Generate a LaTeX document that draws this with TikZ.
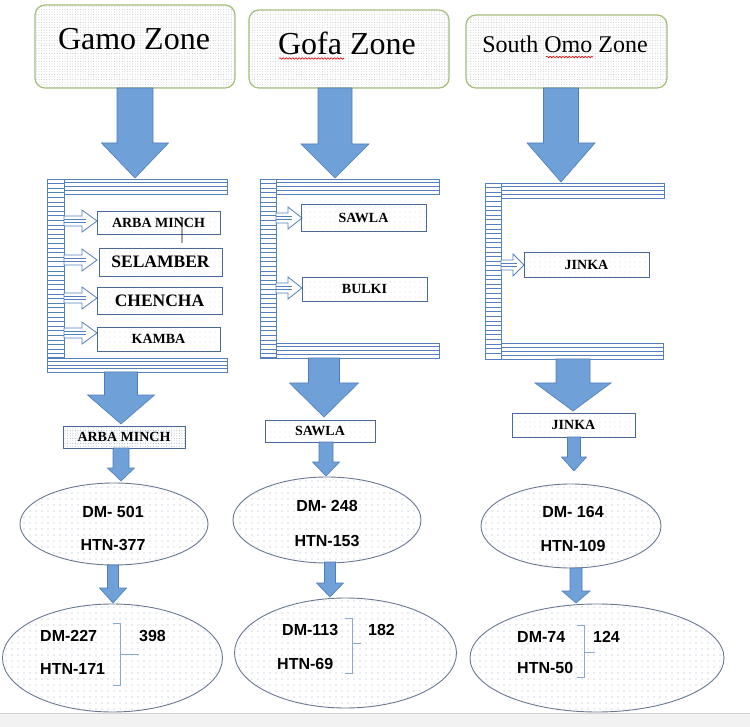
\documentclass[tikz,border=0pt]{standalone}
\usepackage{fontspec}
\setmainfont{Liberation Serif}
\newfontfamily\arialf{Liberation Sans}
\usetikzlibrary{patterns.meta,shapes.geometric,decorations.pathmorphing}
\definecolor{arrfill}{RGB}{112,160,216}
\definecolor{arrdraw}{RGB}{79,124,186}
\definecolor{barcol}{RGB}{84,128,190}
\definecolor{zoneborder}{RGB}{165,190,125}
\definecolor{zonedots}{RGB}{170,176,186}
\definecolor{boxborder}{RGB}{75,105,150}
\definecolor{boxdots}{RGB}{150,165,185}
\definecolor{ellborder}{RGB}{105,120,145}
\definecolor{elldots}{RGB}{160,180,200}
\definecolor{bracecol}{RGB}{140,170,205}
\tikzset{
  zone/.style={draw=zoneborder, line width=1.2pt, rounded corners=10pt,
    pattern={Dots[distance=2.6pt,radius=0.4pt]}, pattern color=zonedots, inner sep=0pt},
  zonetext/.style={font=\fontsize{32}{36}\selectfont, inner sep=0pt, anchor=base},
  zonetextsmall/.style={font=\fontsize{24}{28}\selectfont, inner sep=0pt, anchor=base},
  barstyle/.style={draw=barcol, line width=0.9pt, fill=white},
  barline/.style={draw=barcol, line width=0.6pt},
  sidearr/.style={draw=barcol, line width=0.8pt, fill=white},
  bigarr/.style={draw=arrdraw, line width=0.6pt, fill=arrfill},
  dbox/.style={draw=boxborder, line width=0.8pt, inner sep=0pt,
    pattern={Dots[distance=5pt,radius=0.45pt]}, pattern color=boxdots,
    font=\bfseries\fontsize{14}{16}\selectfont},
  dboxbig/.style={dbox, font=\bfseries\fontsize{17.5}{20}\selectfont},
  tbox/.style={dbox, pattern={Dots[distance=2.6pt,radius=0.45pt]}},
  ell/.style={ellipse, draw=ellborder, line width=0.9pt, inner sep=0pt,
    pattern={Dots[distance=6pt,radius=0.55pt]}, pattern color=elldots},
  etext/.style={font=\arialf\bfseries\fontsize{16}{18}\selectfont, inner sep=0pt, anchor=base},
  etextw/.style={etext, anchor=base west},
  bracestyle/.style={draw=bracecol, line width=0.8pt},
  squig/.style={draw=red!85!black, line width=0.6pt, decorate,
    decoration={snake, amplitude=0.8pt, segment length=3.2pt}}
}
% block arrow: xc, ytop, shaft half, y head top, head half, y tip
\newcommand\blockarrow[6]{%
  \draw[bigarr] ({#1-#3},#2) -- ({#1+#3},#2) -- ({#1+#3},#4) -- ({#1+#5},#4)
    -- (#1,#6) -- ({#1-#5},#4) -- ({#1-#3},#4) -- cycle;}
% horizontal striped bar: x1,y1,x2,y2
\newcommand\stripbarH[4]{%
  \draw[barstyle] (#1,#2) rectangle (#3,#4);
  \foreach \k in {1,2,3} {\draw[barline] (#1,{#2+\k*(#4-#2)/4}) -- (#3,{#2+\k*(#4-#2)/4});}}
% vertical bar with horizontal stripes
\newcommand\stripbarV[4]{%
  \draw[barstyle] (#1,#2) rectangle (#3,#4);
  \pgfmathtruncatemacro\nnstripes{(#4-#2)/4.6-0.5}
  \foreach \k in {1,...,\nnstripes} {\draw[barline] (#1,{#2+\k*4.6}) -- (#3,{#2+\k*4.6});}}
% side arrow: x start, x head, x tip, y centre
\newcommand\sidearrow[4]{%
  \draw[sidearr] (#1,{#4-5}) -- (#2,{#4-5}) -- (#2,{#4-11}) -- (#3,#4) -- (#2,{#4+11})
    -- (#2,{#4+5}) -- (#1,{#4+5}) -- cycle;
  \draw[barline] (#1,{#4-1.7}) -- ({#2+4},{#4-1.7});
  \draw[barline] (#1,{#4+1.7}) -- ({#2+4},{#4+1.7});}
\begin{document}
\begin{tikzpicture}[x=1pt,y=-1pt]
\useasboundingbox (0,0) rectangle (750,727);
\fill[white] (0,0) rectangle (750,727);
\fill[gray!10] (0,713) rectangle (750,727);
\draw[gray!35, line width=0.8pt] (0,713) -- (750,713);

% ---------- zone boxes ----------
\node[zone, minimum width=200pt, minimum height=83pt] (gamo) at (135,46.5) {};
\node[zonetext] (gamot) at (134,50) {Gamo Zone};
\node[zone, minimum width=200pt, minimum height=78pt] (gofa) at (349,49) {};
\node[zonetext] (gofat) at (347,55) {Gofa Zone};
\draw[squig] (279,58.5) -- (344,58.5);
\node[zone, minimum width=201pt, minimum height=73pt] (omo) at (566.5,51.5) {};
\node[zonetextsmall] (omot) at (565,53) {South Omo Zone};
\draw[squig] (546,57) -- (593,57);

% ---------- top block arrows ----------
\blockarrow{135}{88}{18}{143}{33.5}{178}
\blockarrow{335}{88}{17}{144}{34}{178}
\blockarrow{561}{88}{17.5}{143}{34}{182}

% ---------- Gamo bracket ----------
\stripbarH{47}{179}{227}{194}
\stripbarH{47}{358}{227}{372}
\stripbarV{47}{179}{64}{357}
\sidearrow{64}{82}{97}{221}
\sidearrow{64}{82}{97}{260}
\sidearrow{64}{82}{97}{298}
\sidearrow{64}{82}{97}{333}
\node[dbox, minimum width=123pt, minimum height=23pt] (arba) at (158.5,222.5) {ARBA MINCH};
\draw[black, line width=0.6pt] (180,217) -- (182,218) -- (182,243);
\node[dboxbig, minimum width=123pt, minimum height=28pt] (sel) at (160.5,262) {SELAMBER};
\node[dboxbig, minimum width=125pt, minimum height=27pt] (chen) at (159.5,300.5) {CHENCHA};
\node[dbox, minimum width=123pt, minimum height=24pt] (kamba) at (158.5,339) {KAMBA};

% ---------- Gofa bracket ----------
\stripbarH{260}{179}{439}{194}
\stripbarH{260}{343}{439}{358}
\stripbarV{260}{179}{276}{357}
\sidearrow{276}{288}{302}{218}
\sidearrow{276}{288}{302}{288}
\node[dbox, minimum width=125pt, minimum height=27pt] (sawla) at (363.5,217.5) {SAWLA};
\node[dbox, minimum width=125pt, minimum height=24pt] (bulki) at (364.5,289) {BULKI};

% ---------- South Omo bracket ----------
\stripbarH{485}{183}{664}{198}
\stripbarH{485}{343}{663}{359}
\stripbarV{485}{183}{501}{359}
\sidearrow{501}{513}{524}{265}
\node[dbox, minimum width=125pt, minimum height=25pt] (jinka) at (586.5,264.5) {JINKA};

% ---------- arrows below brackets ----------
\blockarrow{121}{372}{16.5}{395}{33.5}{424}
\blockarrow{324}{358}{15.5}{383}{34.5}{417}
\blockarrow{573}{359}{17}{383}{38}{411}

% ---------- town boxes ----------
\node[tbox, minimum width=122pt, minimum height=22pt] (arba2) at (124,437) {ARBA MINCH};
\node[dbox, minimum width=110pt, minimum height=22pt] (sawla2) at (320,431) {SAWLA};
\node[dbox, minimum width=123pt, minimum height=24pt] (jinka2) at (573.5,425) {JINKA};

% ---------- small arrows ----------
\blockarrow{121}{448}{8}{468}{13.5}{481}
\blockarrow{326}{442}{7}{462}{13.5}{476}
\blockarrow{574}{437}{6.5}{457}{12.5}{471}

% ---------- first ellipses ----------
\node[ell, minimum width=188pt, minimum height=82pt] (g1) at (114,524) {};
\node[etext] at (113,517) {DM- 501};
\node[etext] at (113,550) {HTN-377};
\node[ell, minimum width=188pt, minimum height=86pt] (f1) at (327,520) {};
\node[etext] at (327,511) {DM- 248};
\node[etext] at (327,546) {HTN-153};
\node[ell, minimum width=180pt, minimum height=84pt] (s1) at (571,526) {};
\node[etext] at (573,517) {DM- 164};
\node[etext] at (573,551) {HTN-109};

% ---------- arrows to second ellipses ----------
\blockarrow{113}{565}{5.5}{588}{13.5}{603}
\blockarrow{330}{562}{5.5}{583}{13.5}{597}
\blockarrow{576}{568}{6}{591}{14}{603}

% ---------- second ellipses ----------
\node[ell, minimum width=220pt, minimum height=108pt] (g2) at (112.5,658) {};
\node[etextw] at (40,641) {DM-227};
\node[etextw] at (40,674) {HTN-171};
\node[etextw] at (139,641) {398};
\draw[bracestyle] (113,623) -- (120,623) -- (120,685) -- (113,685);
\draw[bracestyle] (120,654) -- (139,654);

\node[ell, minimum width=222pt, minimum height=110pt] (f2) at (345.5,653) {};
\node[etextw] at (282,635) {DM-113};
\node[etextw] at (277,669) {HTN-69};
\node[etextw] at (368,635) {182};
\draw[bracestyle] (345,618) -- (352,618) -- (352,673) -- (345,673);
\draw[bracestyle] (352,643) -- (361,643);

\node[ell, minimum width=254pt, minimum height=108pt] (s2) at (597,658) {};
\node[etextw] at (517,642) {DM-74};
\node[etextw] at (517,673) {HTN-50};
\node[etextw] at (593,642) {124};
\draw[bracestyle] (577,625) -- (584,625) -- (584,677) -- (577,677);
\draw[bracestyle] (584,652) -- (595,652);
\end{tikzpicture}
\end{document}
